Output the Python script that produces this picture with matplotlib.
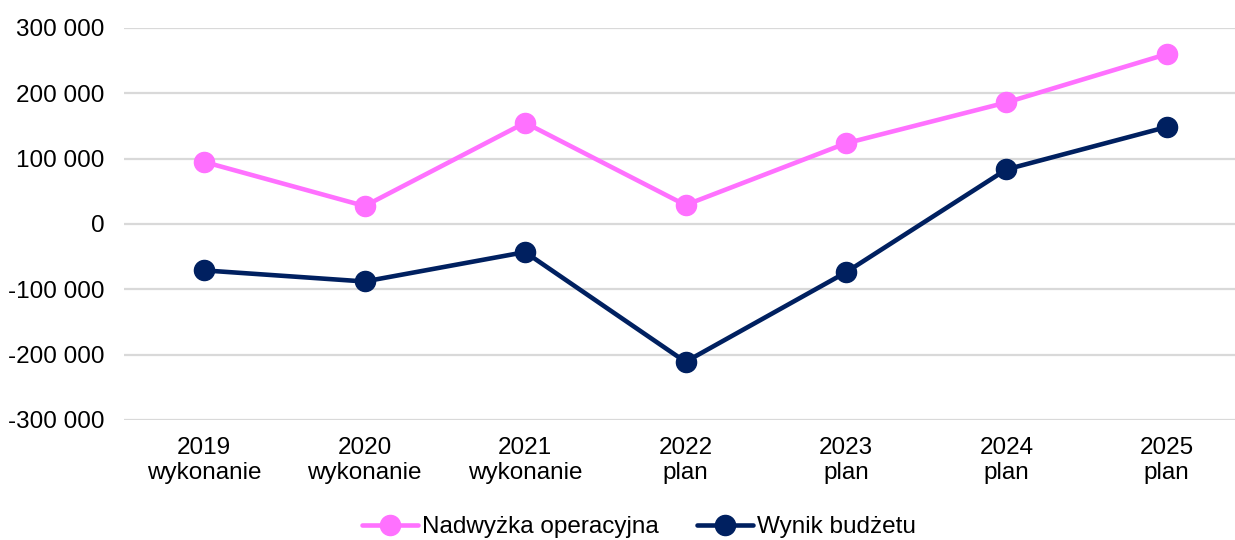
import matplotlib
matplotlib.use("Agg")
import matplotlib.pyplot as plt
from matplotlib.ticker import FuncFormatter, MultipleLocator

years = ["2019", "2020", "2021", "2022", "2023", "2024", "2025"]
stages = ["wykonanie", "wykonanie", "wykonanie", "plan", "plan", "plan", "plan"]
nadwyzka = [95000, 27500, 155000, 29000, 123500, 186000, 260000]
wynik = [-71000, -88000, -43000, -211000, -74000, 83500, 148500]
series_names = ["Nadwyżka operacyjna", "Wynik budżetu"]
colors = ["#FF71FF", "#002060"]

plt.rcParams["font.family"] = ["Liberation Sans", "DejaVu Sans"]

W, H = 1235, 540
fig = plt.figure(figsize=(W / 100, H / 100), dpi=100)
left, right, top, bottom = 124, 1247, 28, 420
ax = fig.add_axes([left / W, 1 - bottom / H, (right - left) / W, (bottom - top) / H])

x = list(range(len(years)))
for vals, name, c in zip([nadwyzka, wynik], series_names, colors):
    ax.plot(x, vals, color=c, lw=3.3, marker="o", markersize=14.5,
            label=name, solid_capstyle="round", zorder=3, clip_on=False)

ax.set_xlim(-0.5, len(years) - 0.5)
ax.set_ylim(-300000, 300000)
ax.yaxis.set_major_locator(MultipleLocator(100000))
ax.yaxis.set_major_formatter(FuncFormatter(
    lambda v, p: ("-" if v < 0 else "") + f"{abs(int(round(v))):,}".replace(",", " ")))
ax.set_xticks(x)
ax.set_xticklabels([f"{y}\n{s}" for y, s in zip(years, stages)])
ax.grid(axis="y", color="#D9D9D9", lw=1.6, zorder=0)
ax.set_axisbelow(True)
for s in ax.spines.values():
    s.set_visible(False)
ax.tick_params(axis="both", length=0, labelsize=17.5, colors="#000000")
ax.tick_params(axis="y", pad=14)
ax.tick_params(axis="x", pad=12)

fig.legend(loc="center", bbox_to_anchor=(639 / W, 13 / H), ncol=2, frameon=False,
           fontsize=17.5, handlelength=2.3, handletextpad=0.15, columnspacing=1.6,
           borderaxespad=0, borderpad=0)

fig.savefig("out.png", dpi=100)
